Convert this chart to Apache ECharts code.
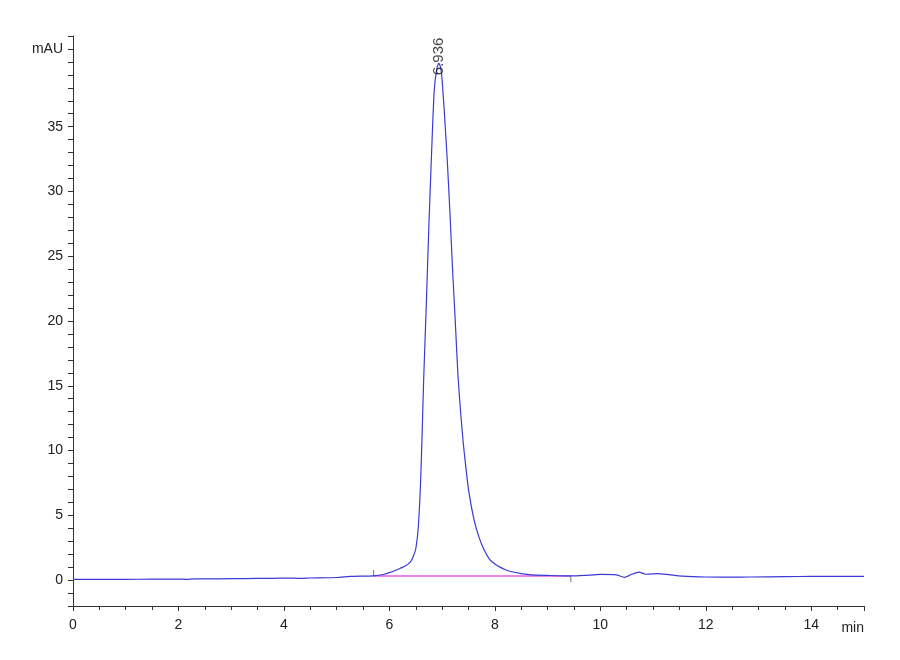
<!DOCTYPE html>
<html>
<head>
<meta charset="utf-8">
<script src="https://cdn.jsdelivr.net/npm/echarts@6/dist/echarts.min.js"></script>
<style>
html,body{margin:0;padding:0;background:#fff;}
#chart{width:900px;height:660px;}
</style>
</head>
<body>
<div id="chart"></div>
<script>
// Retention time (min)
const timeMin = [0,0.5,1,1.5,2,2.15,2.3,2.5,3,3.5,3.8,4,4.3,4.5,5,5.25,5.5,5.7,5.9,6.0,6.1,6.2,6.3,6.4,6.45,6.5,6.55,6.6,6.65,6.7,6.75,6.8,6.85,6.9,6.936,6.97,7.0,7.05,7.1,7.15,7.2,7.25,7.3,7.35,7.4,7.45,7.5,7.6,7.7,7.8,7.9,8.0,8.1,8.2,8.3,8.5,8.7,9.0,9.44,9.7,10.0,10.3,10.46,10.6,10.73,10.86,11.09,11.3,11.55,12.0,12.5,12.83,13.5,14,15];
// Signal (mAU)
const signalMAU = [0.05,0.06,0.06,0.07,0.08,0.06,0.09,0.09,0.11,0.13,0.14,0.15,0.14,0.16,0.2,0.28,0.31,0.33,0.45,0.58,0.72,0.9,1.08,1.4,1.8,2.4,4.2,8.5,15.5,21.3,27.5,33.0,37.8,39.5,39.9,39.6,38.6,35.6,32.2,28.2,23.8,19.9,15.8,13.0,10.6,8.7,7.0,4.75,3.3,2.3,1.6,1.25,1.0,0.8,0.66,0.5,0.4,0.36,0.32,0.36,0.44,0.41,0.21,0.45,0.62,0.45,0.5,0.42,0.31,0.24,0.23,0.24,0.27,0.28,0.28];
// Integration baseline
const baselineTime = [5.70, 9.44];
const baselineMAU = [0.31, 0.31];
// Peak annotation
const peakTime = 6.936;
const peakMAU = 39.9;
const peakLabel = '6.936';
// Axis ticks
const xTickLabels = [0,2,4,6,8,10,12,14];
const yTickLabels = [0,5,10,15,20,25,30,35];

const FONT = "'Liberation Sans Narrow','Arial Narrow','Liberation Sans',Arial,sans-serif";
const signalData = timeMin.map((t,i)=>[t, signalMAU[i]]);
const baselineData = baselineTime.map((t,i)=>[t, baselineMAU[i]]);

const chart = echarts.init(document.getElementById('chart'), null, {renderer:'canvas'});
chart.setOption({
  animation:false,
  backgroundColor:'#fff',
  grid:{left:73, right:36, top:36, bottom:54, containLabel:false},
  xAxis:{
    type:'value', min:0, max:15, interval:2,
    name:'min', nameLocation:'end', nameGap:0,
    nameTextStyle:{fontFamily:FONT, fontSize:14, color:'#222', align:'right', verticalAlign:'top', padding:[15,0,0,0]},
    axisLine:{show:true, onZero:false, lineStyle:{color:'#333', width:1}},
    axisTick:{show:true, length:5, lineStyle:{color:'#333'}},
    minorTick:{show:true, splitNumber:4, length:4, lineStyle:{color:'#333'}},
    splitLine:{show:false},
    axisLabel:{fontFamily:FONT, fontSize:14, color:'#222', margin:12,
      formatter:v=> xTickLabels.includes(v) ? String(v) : ''}
  },
  yAxis:{
    type:'value', min:-2, max:42, interval:1,
    axisLine:{show:true, onZero:false, lineStyle:{color:'#333', width:1}},
    axisTick:{show:true, length:5, lineStyle:{color:'#333'}},
    splitLine:{show:false},
    axisLabel:{fontFamily:FONT, fontSize:14, color:'#222', margin:10,
      formatter:v=> v===41 ? 'mAU' : (yTickLabels.includes(v) ? String(v) : '')}
  },
  series:[
    {
      type:'line', name:'signal', data:signalData, showSymbol:false, smooth:0.2,
      lineStyle:{color:'#3a3ad6', width:1.2}, z:3
    },
    {
      type:'line', name:'baseline', data:baselineData, showSymbol:false,
      lineStyle:{color:'#e05ce0', width:1.5}, z:2
    },
    {
      type:'scatter', name:'baselineTicks', symbol:'rect', symbolSize:[1,6],
      itemStyle:{color:'#555'}, z:4,
      data:[
        {value:baselineData[0], symbolOffset:[0,-3]},
        {value:baselineData[1], symbolOffset:[0,3]}
      ]
    },
    {
      type:'scatter', name:'peak', symbolSize:0, z:5,
      data:[[peakTime, peakMAU]],
      label:{show:true, formatter:peakLabel, rotate:90, position:'top', distance:-12,
        align:'left', verticalAlign:'middle',
        fontFamily:"'Liberation Sans',Arial,sans-serif", fontSize:15, color:'#111'}
    }
  ]
});
</script>
</body>
</html>
